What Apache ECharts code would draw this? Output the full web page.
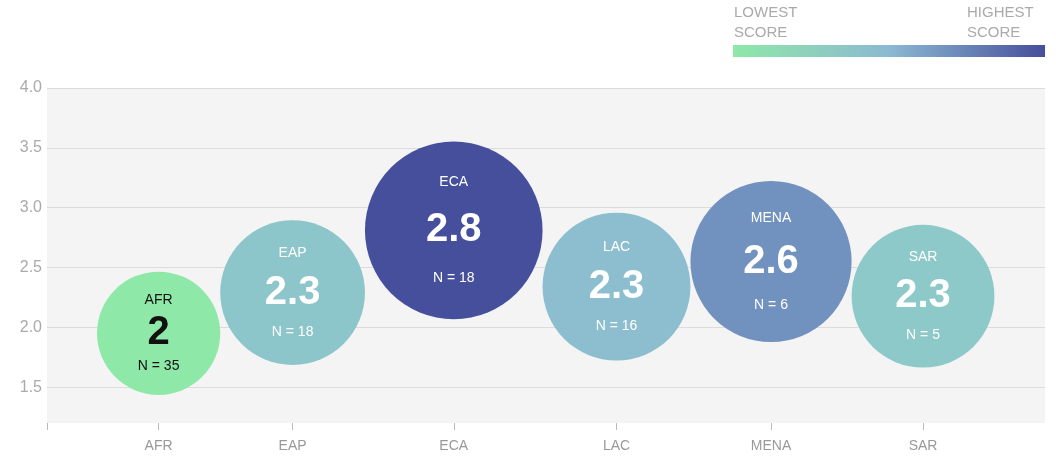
<!DOCTYPE html>
<html lang="en">
<head>
    <meta charset="UTF-8">
    <title>Scores by region</title>
    <script src="https://cdn.jsdelivr.net/npm/echarts@6/dist/echarts.min.js"></script>
    <style>
        html, body { margin: 0; padding: 0; background: #fff; }
        #chart { width: 1056px; height: 456px; }
    </style>
</head>
<body>
<div id="chart"></div>
<script>
    // data
    var regions = ['AFR', 'EAP', 'ECA', 'LAC', 'MENA', 'SAR'];
    var scores = [1.95, 2.29, 2.81, 2.34, 2.55, 2.26];
    var counts = [35, 18, 18, 16, 6, 5];
    var yTicks = [1.5, 2.0, 2.5, 3.0, 3.5, 4.0];

    var gridLeft = 47, gridRight = 11, gridTop = 88, gridBottom = 33;
    var gridWidth = 1056 - gridLeft - gridRight;
    var pxPerScore = 31.6;   // bubble radius per score point
    var firstGap = 50;

    // bubbles are packed side by side, x axis runs in pixels of the grid
    var centers = [];
    var cursor = firstGap;
    for (var i = 0; i < scores.length; i++) {
        var r = scores[i] * pxPerScore;
        centers.push(cursor + r);
        cursor += 2 * r;
    }

    var minScore = Math.min.apply(null, scores);

    var seriesData = [];
    for (var i = 0; i < regions.length; i++) {
        var r = scores[i] * pxPerScore;
        var gap = 0.54 * r;
        var lh = Math.max(2 * gap - 40, 14);
        var txt = scores[i] === minScore ? '#111' : '#fff';
        seriesData.push({
            value: [centers[i], scores[i]],
            name: regions[i],
            n: counts[i],
            label: {
                rich: {
                    a: {fontSize: 14, color: txt, lineHeight: lh, fontFamily: 'Liberation Sans'},
                    b: {fontSize: 40, fontWeight: 'bold', color: txt, lineHeight: 40, fontFamily: 'Liberation Sans'},
                    c: {fontSize: 14, color: txt, lineHeight: lh, fontFamily: 'Liberation Sans'}
                }
            }
        });
    }

    var chart = echarts.init(document.getElementById('chart'));

    var option = {
        animation: false,
        backgroundColor: '#fff',
        grid: {
            left: gridLeft, right: gridRight, top: gridTop, bottom: gridBottom,
            show: true, backgroundColor: '#f4f4f4', borderWidth: 0
        },
        visualMap: {
            show: false,
            type: 'continuous',
            dimension: 1,
            min: Math.min.apply(null, scores),
            max: Math.max.apply(null, scores),
            inRange: {color: ['#8ee8a8', '#8dd6c0', '#8cb9d2', '#6a86ba', '#454f9c']}
        },
        xAxis: {
            type: 'value',
            min: 0,
            max: gridWidth,
            axisLine: {show: false},
            splitLine: {show: false},
            axisTick: {
                show: true, length: 7, inside: false,
                lineStyle: {color: '#bbb'},
                customValues: [0].concat(centers)
            },
            axisLabel: {
                customValues: centers,
                margin: 16,
                color: '#999',
                fontSize: 14,
                fontFamily: 'Liberation Sans',
                formatter: function (v) {
                    var best = 0;
                    for (var k = 0; k < centers.length; k++) {
                        if (Math.abs(centers[k] - v) < Math.abs(centers[best] - v)) best = k;
                    }
                    return regions[best];
                }
            }
        },
        yAxis: {
            type: 'value',
            min: 1.2,
            max: 4.0,
            axisLine: {show: false},
            axisTick: {show: false, customValues: yTicks},
            splitLine: {show: true, lineStyle: {color: '#dcdcdc', width: 1}},
            axisLabel: {
                customValues: yTicks,
                margin: 5,
                color: '#aaa',
                fontSize: 16,
                fontFamily: 'Liberation Sans',
                formatter: function (v) { return v.toFixed(1); }
            }
        },
        graphic: [
            {
                type: 'rect',
                left: 733, top: 45,
                shape: {width: 312, height: 12},
                style: {
                    fill: new echarts.graphic.LinearGradient(0, 0, 1, 0, [
                        {offset: 0, color: '#8ee8a8'},
                        {offset: 0.5, color: '#8cb9d2'},
                        {offset: 1, color: '#454f9c'}
                    ])
                }
            },
            {
                type: 'text', left: 734, top: 3,
                style: {text: 'LOWEST\nSCORE', fill: '#aaa', fontSize: 15, lineHeight: 20, fontFamily: 'Liberation Sans'}
            },
            {
                type: 'text', left: 967, top: 3,
                style: {text: 'HIGHEST\nSCORE', fill: '#aaa', fontSize: 15, lineHeight: 20, fontFamily: 'Liberation Sans'}
            }
        ],
        series: [{
            type: 'scatter',
            data: seriesData,
            symbolSize: function (val) { return 2 * val[1] * pxPerScore; },
            itemStyle: {opacity: 1},
            label: {
                show: true,
                position: 'inside',
                formatter: function (p) {
                    var s = Math.round(p.value[1] * 10) / 10;
                    return '{a|' + p.name + '}\n{b|' + s + '}\n{c|N = ' + p.data.n + '}';
                }
            }
        }]
    };

    chart.setOption(option);
</script>
</body>
</html>
